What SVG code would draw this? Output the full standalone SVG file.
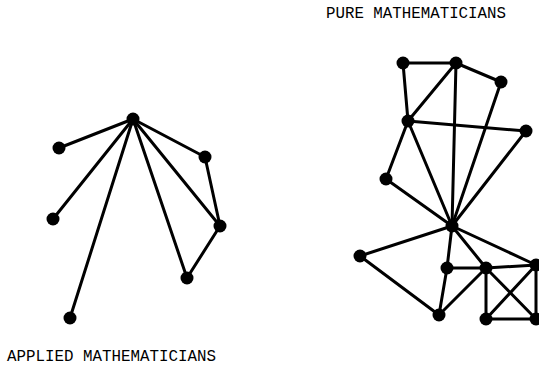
<svg xmlns="http://www.w3.org/2000/svg" width="539" height="365" viewBox="0 0 539 365">
<style>
.e{stroke:#000;stroke-width:3;stroke-linecap:round;fill:none}
.n{fill:#000}
.t{font-family:"Liberation Mono","Courier New",monospace;font-size:15.8px;fill:#000}
</style>
<rect width="539" height="365" fill="#fff"/>
<g id="connectors" class="e">
<line x1="133" y1="119" x2="59" y2="148"/>
<line x1="133" y1="119" x2="53" y2="219"/>
<line x1="133" y1="119" x2="70" y2="318"/>
<line x1="133" y1="119" x2="205" y2="157"/>
<line x1="133" y1="119" x2="220" y2="226"/>
<line x1="133" y1="119" x2="187" y2="278"/>
<line x1="205" y1="157" x2="220" y2="226"/>
<line x1="220" y1="226" x2="187" y2="278"/>
<line x1="403" y1="63" x2="456" y2="63"/>
<line x1="403" y1="63" x2="408" y2="121"/>
<line x1="456" y1="63" x2="408" y2="121"/>
<line x1="456" y1="63" x2="501" y2="82"/>
<line x1="456" y1="63" x2="452" y2="226"/>
<line x1="501" y1="82" x2="452" y2="226"/>
<line x1="408" y1="121" x2="526" y2="131"/>
<line x1="526" y1="131" x2="452" y2="226"/>
<line x1="408" y1="121" x2="452" y2="226"/>
<line x1="408" y1="121" x2="386" y2="179"/>
<line x1="386" y1="179" x2="452" y2="226"/>
<line x1="452" y1="226" x2="360" y2="256"/>
<line x1="360" y1="256" x2="439" y2="315"/>
<line x1="452" y1="226" x2="447" y2="268"/>
<line x1="447" y1="268" x2="439" y2="315"/>
<line x1="439" y1="315" x2="486" y2="268"/>
<line x1="447" y1="268" x2="486" y2="268"/>
<line x1="452" y1="226" x2="486" y2="268"/>
<line x1="452" y1="226" x2="536" y2="265"/>
<line x1="486" y1="268" x2="536" y2="265"/>
<line x1="486" y1="268" x2="486" y2="319"/>
<line x1="536" y1="265" x2="536" y2="319"/>
<line x1="486" y1="319" x2="536" y2="319"/>
<line x1="486" y1="268" x2="536" y2="319"/>
<line x1="536" y1="265" x2="486" y2="319"/>
</g>
<g id="applied-hub"><circle class="n" cx="133" cy="119" r="6.5"/></g>
<g id="applied-a"><circle class="n" cx="59" cy="148" r="6.5"/></g>
<g id="applied-b"><circle class="n" cx="53" cy="219" r="6.5"/></g>
<g id="applied-c"><circle class="n" cx="70" cy="318" r="6.5"/></g>
<g id="applied-d"><circle class="n" cx="205" cy="157" r="6.5"/></g>
<g id="applied-e"><circle class="n" cx="220" cy="226" r="6.5"/></g>
<g id="applied-f"><circle class="n" cx="187" cy="278" r="6.5"/></g>
<g id="pure-1"><circle class="n" cx="403" cy="63" r="6.5"/></g>
<g id="pure-2"><circle class="n" cx="456" cy="63" r="6.5"/></g>
<g id="pure-3"><circle class="n" cx="501" cy="82" r="6.5"/></g>
<g id="pure-4"><circle class="n" cx="408" cy="121" r="6.5"/></g>
<g id="pure-5"><circle class="n" cx="526" cy="131" r="6.5"/></g>
<g id="pure-6"><circle class="n" cx="386" cy="179" r="6.5"/></g>
<g id="pure-hub"><circle class="n" cx="452" cy="226" r="6.5"/></g>
<g id="pure-7"><circle class="n" cx="360" cy="256" r="6.5"/></g>
<g id="pure-8"><circle class="n" cx="447" cy="268" r="6.5"/></g>
<g id="pure-9"><circle class="n" cx="486" cy="268" r="6.5"/></g>
<g id="pure-10"><circle class="n" cx="536" cy="265" r="6.5"/></g>
<g id="pure-11"><circle class="n" cx="439" cy="315" r="6.5"/></g>
<g id="pure-12"><circle class="n" cx="486" cy="319" r="6.5"/></g>
<g id="pure-13"><circle class="n" cx="536" cy="319" r="6.5"/></g>
<g id="label-pure"><text class="t" x="326" y="18" textLength="180" lengthAdjust="spacingAndGlyphs">PURE MATHEMATICIANS</text></g>
<g id="label-applied"><text class="t" x="7" y="361" textLength="209" lengthAdjust="spacingAndGlyphs">APPLIED MATHEMATICIANS</text></g>
</svg>
